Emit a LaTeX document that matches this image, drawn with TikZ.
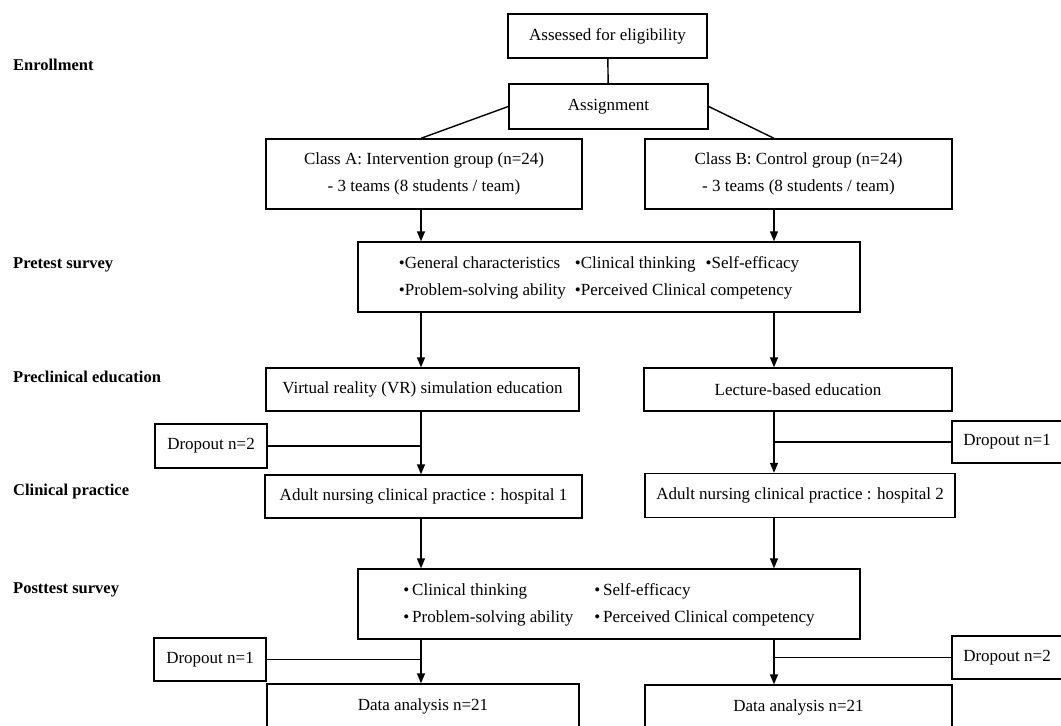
\documentclass[tikz,border=0pt]{standalone}
\usepackage{fontspec}
\setmainfont{Liberation Serif}
\usetikzlibrary{arrows.meta,positioning}

\begin{document}
\begin{tikzpicture}[x=1pt,y=-1pt,
	box/.style={draw, line width=1.4pt, inner sep=0pt, align=center, font=\fontsize{17}{27}\selectfont},
	lbl/.style={anchor=base west, inner sep=0pt, font=\fontsize{16.5}{20}\selectfont\bfseries},
	arr/.style={-{Triangle[length=10pt,width=8pt]}, line width=1.4pt},
	lin/.style={line width=1.4pt}]
	\useasboundingbox (0,0) rectangle (1061,726);
	\clip (0,0) rectangle (1061,726);
	
	\coordinate (colL) at (421,0);
	\coordinate (colR) at (774,0);
	
	\node[lbl] (lenr) at (13,70) {Enrollment};
	\node[lbl] (lpre) at (13,268) {Pretest survey};
	\node[lbl] (lprecl) at (13,382) {Preclinical education};
	\node[lbl] (lclin) at (13,495) {Clinical practice};
	\node[lbl] (lpost) at (13,593) {Posttest survey};
	
	\node[box, minimum width=199pt, minimum height=44pt] (elig) at (607.5,36) {Assessed for eligibility};
	\node[box, minimum width=199pt, minimum height=45pt] (assign) at (608.5,106.5) {Assignment};
	\node[box, minimum width=316pt, minimum height=70pt] (clsA) at (424,174) {Class A: Intervention group (n=24)\\- 3 teams (8 students / team)};
	\node[box, minimum width=307pt, minimum height=70pt] (clsB) at (798.5,174) {Class B: Control group (n=24)\\- 3 teams (8 students / team)};
	\node[box, minimum width=502pt, minimum height=70pt] (pre) at (609,277) {\begin{tabular}{@{}l@{\hspace{9pt}}l@{}}
			\textbullet General characteristics & \textbullet Clinical thinking\hspace{10pt}\textbullet Self-efficacy\\
			\textbullet Problem-solving ability & \textbullet Perceived Clinical competency
		\end{tabular}\hspace{20pt}};
	\node[box, minimum width=313pt, minimum height=43pt] (vr) at (422.5,389.5) {Virtual reality (VR) simulation education};
	\node[box, minimum width=308pt, minimum height=43pt] (lect) at (798,389.5) {Lecture-based education};
	\node[box, minimum width=112pt, minimum height=44pt] (dropA1) at (211,446) {Dropout n=2};
	\node[box, minimum width=110pt, minimum height=42pt] (dropB1) at (1007,442) {Dropout n=1};
	\node[box, minimum width=317pt, minimum height=43pt] (hospA) at (423.5,496.5) {Adult nursing clinical practice : hospital 1};
	\node[box, minimum width=310pt, minimum height=44pt] (hospB) at (800,495.5) {Adult nursing clinical practice : hospital 2};
	\node[box, minimum width=502pt, minimum height=70pt] (post) at (609,604) {\begin{tabular}{@{}l@{\hspace{21pt}}l@{}}
			\textbullet\,Clinical thinking & \textbullet\,Self-efficacy\\
			\textbullet\,Problem-solving ability & \textbullet\,Perceived Clinical competency
		\end{tabular}};
	\node[box, minimum width=112pt, minimum height=43pt] (dropA2) at (210,659.5) {Dropout n=1};
	\node[box, minimum width=110pt, minimum height=43pt] (dropB2) at (1007,657.5) {Dropout n=2};
	\node[box, minimum width=312pt, minimum height=44pt] (dataA) at (423,706) {Data analysis n=21};
	\node[box, minimum width=307pt, minimum height=44pt] (dataB) at (798.5,707) {Data analysis n=21};
	
	\draw[lin] (elig) -- (assign);
	\draw[lin] (assign.west) -- (colL |- clsA.north);
	\draw[lin] (assign.east) -- (colR |- clsB.north);
	\draw[arr] (colL |- clsA.south) -- (colL |- pre.north);
	\draw[arr] (colR |- clsB.south) -- (colR |- pre.north);
	\draw[arr] (colL |- pre.south) -- (colL |- vr.north);
	\draw[arr] (colR |- pre.south) -- (colR |- lect.north);
	\draw[arr] (colL |- vr.south) -- (colL |- hospA.north);
	\draw[arr] (colR |- lect.south) -- (colR |- hospB.north);
	\draw[lin] (dropA1.east) -- (dropA1.east -| colL);
	\draw[lin] (dropB1.west) -- (dropB1.west -| colR);
	\draw[arr] (colL |- hospA.south) -- (colL |- post.north);
	\draw[arr] (colR |- hospB.south) -- (colR |- post.north);
	\draw[arr] (colL |- post.south) -- (colL |- dataA.north);
	\draw[arr] (colR |- post.south) -- (colR |- dataB.north);
	\draw[lin] (dropA2.east) -- (dropA2.east -| colL);
	\draw[lin] (dropB2.west) -- (dropB2.west -| colR);
\end{tikzpicture}
\end{document}
